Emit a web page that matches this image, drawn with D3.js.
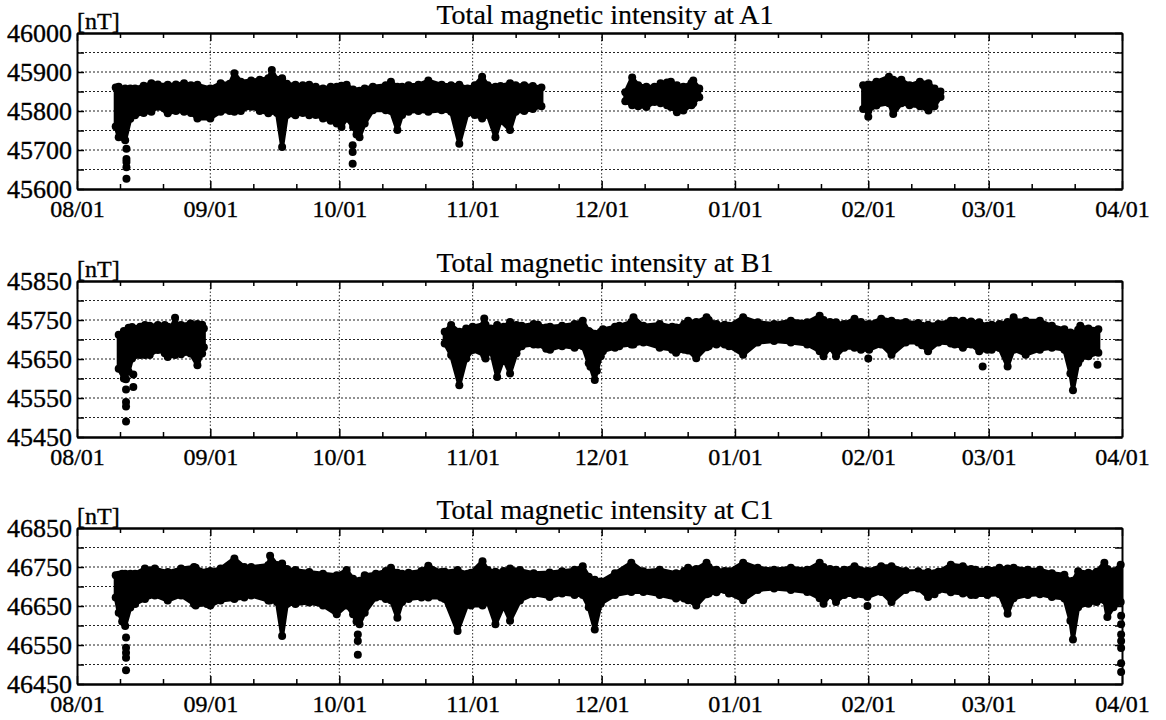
<!DOCTYPE html>
<html lang="en">
<head>
<meta charset="UTF-8">
<title>Total magnetic intensity</title>
<style>
  body { margin: 0; background: #fff; }
</style>
</head>
<body>
<script src="https://d3js.org/d3.v7.min.js"></script>
<div id="chart"></div>
<script>
// stations and their y ranges [nT]
const stations = ["A1", "B1", "C1"]
const yRanges = [[45600, 46000], [45450, 45850], [46450, 46850]]
const monthStarts = ["2001-08-01", "2001-09-01", "2001-10-01", "2001-11-01", "2001-12-01",
                     "2002-01-01", "2002-02-01", "2002-03-01", "2002-04-01"]

// envelope of the readings: [days since 08/01, lowest, highest]; null = no data
const A1_band = [
  [9.0, 45760, 45860], [9.7, 45733, 45862], [11.2, 45725, 45858], [12.4, 45780, 45858], [13.5, 45789, 45858],
  [15.5, 45795, 45865], [17.3, 45798, 45871], [18.8, 45811, 45868], [21.1, 45794, 45867], [23.0, 45800, 45868],
  [24.9, 45798, 45871], [26.5, 45795, 45866], [28.0, 45781, 45867], [31.0, 45781, 45858], [33.4, 45798, 45871],
  [35.5, 45800, 45870], [36.6, 45798, 45897], [38.1, 45800, 45875], [40.5, 45811, 45878], [42.5, 45800, 45880],
  [44.5, 45794, 45884], [45.3, 45800, 45905], [46.5, 45795, 45880], [47.7, 45708, 45884], [48.8, 45790, 45870],
  [50.8, 45789, 45867], [52.5, 45795, 45866], [54.0, 45789, 45867], [55.5, 45790, 45862], [57.2, 45781, 45858],
  [59.0, 45775, 45862], [60.4, 45768, 45862], [61.5, 45759, 45865], [62.7, 45781, 45867], [64.2, 45759, 45855],
  [65.0, 45740, 45850], [65.7, 45733, 45852], [66.9, 45768, 45858], [68.8, 45802, 45862], [71.8, 45802, 45866],
  [73.0, 45800, 45875], [74.5, 45751, 45862], [75.6, 45790, 45862], [77.1, 45798, 45866], [79.4, 45800, 45867],
  [81.7, 45798, 45878], [84.8, 45802, 45867], [87.0, 45798, 45866], [88.9, 45716, 45867], [90.8, 45794, 45858],
  [92.5, 45790, 45866], [94.2, 45781, 45888], [95.5, 45790, 45866], [97.3, 45733, 45862], [98.5, 45775, 45864],
  [100.7, 45751, 45871], [102.0, 45798, 45866], [104.0, 45800, 45866], [106.0, 45805, 45864], [108.0, 45812, 45860],
  null,
  [127.5, 45825, 45848], [129.1, 45815, 45886], [130.5, 45812, 45866], [132.4, 45810, 45862], [134.3, 45823, 45862],
  [135.7, 45820, 45871], [137.2, 45815, 45873], [138.1, 45810, 45875], [139.5, 45797, 45866], [141.0, 45801, 45862],
  [142.9, 45815, 45872], [143.3, 45820, 45878], [144.7, 45835, 45858],
  null,
  [182.8, 45805, 45866], [184.0, 45800, 45868], [185.9, 45814, 45875], [188.8, 45820, 45888], [189.8, 45792, 45880],
  [191.7, 45820, 45880], [193.6, 45815, 45866], [196.0, 45812, 45875], [198.0, 45801, 45871], [199.4, 45812, 45858],
  [200.8, 45836, 45850]
]
const A1_dots = [[11.5, 45703], [11.5, 45677], [11.5, 45669], [11.5, 45656], [11.5, 45626],
                 [64.1, 45712], [64.1, 45695], [64.1, 45665], [184.0, 45785]]

const B1_band = [
  [9.7, 45625, 45712], [10.9, 45600, 45722], [12.0, 45617, 45730], [12.8, 45651, 45732], [14.7, 45660, 45733],
  [15.8, 45660, 45737], [16.9, 45660, 45735], [18.8, 45673, 45737], [20.4, 45665, 45737], [21.1, 45655, 45733],
  [22.8, 45660, 45740], [24.2, 45662, 45737], [26.4, 45664, 45741], [28.0, 45634, 45740], [29.1, 45664, 45738],
  [29.5, 45680, 45728],
  null,
  [85.5, 45690, 45720], [87.0, 45660, 45737], [88.9, 45583, 45720], [90.5, 45651, 45728], [92.0, 45673, 45733],
  [94.7, 45660, 45740], [95.0, 45651, 45738], [96.2, 45673, 45728], [97.7, 45604, 45737], [99.2, 45651, 45733],
  [100.7, 45613, 45745], [102.2, 45665, 45737], [103.4, 45683, 45735], [106.2, 45687, 45740], [107.2, 45687, 45738],
  [109.1, 45676, 45731], [110.0, 45674, 45733], [112.8, 45683, 45735], [115.7, 45679, 45740], [117.6, 45683, 45748],
  [119.0, 45639, 45722], [119.4, 45630, 45718], [120.4, 45596, 45715], [120.9, 45620, 45713], [121.8, 45657, 45720],
  [122.3, 45670, 45726], [125.1, 45679, 45733], [126.1, 45683, 45735], [128.9, 45687, 45745], [129.4, 45687, 45757],
  [131.7, 45692, 45735], [135.5, 45679, 45740], [138.4, 45674, 45733], [139.3, 45666, 45731], [141.2, 45674, 45740],
  [142.1, 45672, 45748], [144.0, 45652, 45745], [146.4, 45680, 45757], [146.9, 45683, 45750], [148.7, 45687, 45740],
  [150.6, 45687, 45738], [151.6, 45683, 45735], [154.9, 45661, 45757], [158.3, 45692, 45744], [162.1, 45696, 45740],
  [166.0, 45692, 45748], [169.8, 45687, 45744], [172.7, 45670, 45761], [173.6, 45657, 45750], [175.1, 45679, 45745],
  [176.5, 45657, 45744], [178.4, 45679, 45740], [180.8, 45679, 45753], [182.3, 45674, 45745], [184.2, 45674, 45740],
  [187.0, 45687, 45753], [189.4, 45661, 45748], [192.7, 45692, 45745], [195.6, 45692, 45742], [196.5, 45685, 45735],
  [197.9, 45670, 45738], [200.3, 45692, 45740], [203.2, 45690, 45748], [204.1, 45687, 45748], [206.0, 45679, 45748],
  [207.9, 45687, 45746], [209.8, 45670, 45744], [211.7, 45674, 45735], [212.7, 45674, 45738], [214.5, 45678, 45740],
  [216.4, 45631, 45745], [217.8, 45674, 45750], [220.6, 45661, 45748], [223.9, 45674, 45748], [226.7, 45679, 45735],
  [229.6, 45674, 45726], [231.0, 45613, 45718], [231.6, 45570, 45715], [232.8, 45639, 45725], [233.3, 45650, 45735],
  [235.2, 45657, 45728], [237.5, 45666, 45726]
]
const B1_dots = [[22.8, 45756], [13.1, 45610], [11.4, 45598], [13.1, 45578], [11.4, 45572], [11.4, 45540],
                 [11.4, 45528], [11.4, 45490], [94.7, 45754], [184.0, 45651], [210.6, 45631], [217.8, 45757],
                 [237.3, 45635]]

const C1_band = [
  [9.0, 46672, 46729], [9.7, 46633, 46730], [10.5, 46610, 46733], [11.2, 46599, 46733], [12.4, 46646, 46733],
  [13.5, 46655, 46733], [15.8, 46668, 46746], [18.1, 46677, 46746], [21.1, 46664, 46737], [24.2, 46677, 46746],
  [27.2, 46655, 46750], [27.6, 46651, 46748], [30.2, 46655, 46737], [31.0, 46651, 46740], [33.4, 46664, 46746],
  [36.6, 46668, 46772], [38.9, 46672, 46750], [40.5, 46677, 46750], [44.5, 46664, 46755], [44.9, 46664, 46779],
  [46.5, 46660, 46755], [47.7, 46573, 46759], [48.8, 46655, 46745], [50.8, 46655, 46742], [54.0, 46659, 46737],
  [57.2, 46651, 46733], [60.4, 46629, 46729], [62.7, 46651, 46742], [64.2, 46629, 46720], [65.0, 46610, 46707],
  [65.7, 46603, 46715], [66.9, 46633, 46729], [69.5, 46672, 46733], [71.8, 46668, 46740], [73.0, 46665, 46748],
  [74.5, 46620, 46735], [75.6, 46660, 46733], [77.1, 46668, 46735], [80.1, 46672, 46740], [81.7, 46672, 46753],
  [84.7, 46672, 46737], [85.5, 46668, 46738], [88.5, 46586, 46742], [90.8, 46655, 46733], [91.6, 46651, 46735],
  [94.3, 46651, 46765], [95.5, 46660, 46742], [97.3, 46603, 46738], [99.2, 46651, 46740], [100.7, 46612, 46746],
  [103.0, 46664, 46742], [106.2, 46680, 46734], [109.9, 46673, 46736], [112.8, 46682, 46739], [115.7, 46678, 46743],
  [117.6, 46678, 46752], [119.0, 46647, 46725], [120.4, 46590, 46717], [121.8, 46656, 46713], [125.1, 46678, 46734],
  [128.9, 46686, 46761], [131.7, 46686, 46739], [135.5, 46678, 46743], [139.3, 46669, 46734], [141.2, 46669, 46740],
  [142.1, 46665, 46748], [144.0, 46651, 46745], [146.4, 46680, 46761], [146.9, 46682, 46750], [148.7, 46685, 46743],
  [150.6, 46691, 46740], [151.6, 46682, 46739], [154.9, 46665, 46761], [158.3, 46691, 46748], [162.1, 46695, 46743],
  [166.0, 46691, 46748], [169.8, 46686, 46743], [172.7, 46670, 46761], [173.6, 46656, 46750], [175.1, 46678, 46745],
  [176.5, 46660, 46743], [178.4, 46678, 46743], [180.8, 46678, 46752], [183.8, 46673, 46740], [187.0, 46686, 46752],
  [189.4, 46660, 46752], [192.7, 46691, 46740], [195.6, 46695, 46739], [197.9, 46673, 46737], [199.4, 46680, 46734],
  [200.3, 46691, 46738], [203.2, 46685, 46756], [206.0, 46682, 46752], [207.9, 46678, 46745], [208.9, 46678, 46743],
  [211.7, 46678, 46743], [214.5, 46680, 46748], [216.4, 46630, 46746], [217.8, 46670, 46748], [221.1, 46678, 46743],
  [223.9, 46680, 46743], [226.7, 46673, 46734], [229.6, 46669, 46730], [231.0, 46612, 46713], [231.6, 46564, 46715],
  [232.8, 46647, 46739], [235.2, 46656, 46735], [237.1, 46660, 46738], [238.9, 46665, 46761], [239.6, 46622, 46745],
  [241.0, 46647, 46739], [242.7, 46660, 46756]
]
const C1_dots = [[11.4, 46569], [11.4, 46543], [11.4, 46530], [11.4, 46517], [11.4, 46485],
                 [65.3, 46577], [65.3, 46560], [65.3, 46525], [183.8, 46650],
                 [242.8, 46625], [242.8, 46603], [242.8, 46577], [242.8, 46560], [242.8, 46542],
                 [242.8, 46503], [242.8, 46481]]

const bands = [A1_band, B1_band, C1_band]
const dots = [A1_dots, B1_dots, C1_dots]

const MARGIN = { LEFT: 77, TOP: 33 }
const WIDTH = 1045
const HEIGHT = 156
const PANEL_STEP = [0, 248, 495]
const SERIF = '"Liberation Serif", "Times New Roman", serif'

const svg = d3.select("#chart").append("svg")
    .attr("width", 1166)
    .attr("height", 720)

const parse = d3.timeParse("%Y-%m-%d")
const months = monthStarts.map(parse)
const start = months[0]
const dayToDate = d => new Date(+start + d * 864e5)

const x = d3.scaleTime()
    .domain([months[0], months[months.length - 1]])
    .range([0, WIDTH])

// minor ticks on the 11th and 21st of each month
const minorTicks = []
months.slice(0, -1).forEach(m => {
    minorTicks.push(new Date(m.getFullYear(), m.getMonth(), 11))
    minorTicks.push(new Date(m.getFullYear(), m.getMonth(), 21))
})

// scanned print: slightly heavy serif text
const inkText = sel => sel.style("font-family", SERIF)
    .attr("fill", "#000").attr("stroke", "#000").attr("stroke-width", 0.35)

stations.forEach((name, i) => {
    const g = svg.append("g")
        .attr("transform", `translate(${MARGIN.LEFT}, ${MARGIN.TOP + PANEL_STEP[i]})`)

    const [y0, y1] = yRanges[i]
    const y = d3.scaleLinear().domain([y0, y1]).range([HEIGHT, 0])
    const allTicks = d3.range(y0, y1 + 1, 50)
    const labelTicks = d3.range(y0, y1 + 1, 100)

    // dotted grid
    g.append("g").selectAll("line")
        .data(allTicks.slice(1, -1))
        .join("line")
        .attr("x1", 0).attr("x2", WIDTH)
        .attr("y1", d => y(d)).attr("y2", d => y(d))
        .attr("stroke", "#222").attr("stroke-width", 1).attr("stroke-dasharray", "2,2")
    g.append("g").selectAll("line")
        .data(months.slice(1, -1))
        .join("line")
        .attr("x1", d => x(d)).attr("x2", d => x(d))
        .attr("y1", 0).attr("y2", HEIGHT)
        .attr("stroke", "#333").attr("stroke-width", 1).attr("stroke-dasharray", "1.5,2")

    // readings envelope
    const band = bands[i]
    const area = d3.area()
        .defined(d => d !== null)
        .x(d => x(dayToDate(d[0])))
        .y0(d => y(d[1]))
        .y1(d => y(d[2]))
    g.append("path")
        .datum(band)
        .attr("d", area)
        .attr("fill", "#000")
        .attr("stroke", "#000")
        .attr("stroke-width", 4)
        .attr("stroke-linejoin", "round")

    // the edge readings themselves, giving the cloud its bumpy rim
    const edges = band.filter(d => d !== null).flatMap(d => [[d[0], d[1]], [d[0], d[2]]])
    g.append("g").selectAll("circle")
        .data(edges.concat(dots[i]))
        .join("circle")
        .attr("cx", d => x(dayToDate(d[0])))
        .attr("cy", d => y(d[1]))
        .attr("r", 4)
        .attr("fill", "#000")

    // axes
    g.append("g")
        .call(d3.axisLeft(y).tickValues(allTicks).tickSizeInner(-7).tickSizeOuter(0).tickPadding(5)
            .tickFormat(d => labelTicks.includes(d) ? d : ""))
        .call(a => a.selectAll("text").attr("font-size", 26).call(inkText))
    g.append("g")
        .attr("transform", `translate(${WIDTH}, 0)`)
        .call(d3.axisRight(y).tickValues(allTicks).tickSizeInner(-7).tickSizeOuter(0).tickFormat(""))
    g.append("g")
        .attr("transform", `translate(0, ${HEIGHT})`)
        .call(d3.axisBottom(x).tickValues(months).tickSizeInner(-8).tickSizeOuter(0).tickPadding(11)
            .tickFormat(d3.timeFormat("%m/%d")))
        .call(a => a.selectAll("text").attr("font-size", 24).call(inkText))
    g.append("g")
        .attr("transform", `translate(0, ${HEIGHT})`)
        .call(d3.axisBottom(x).tickValues(minorTicks).tickSizeInner(-5).tickSizeOuter(0).tickFormat(""))
    g.append("g")
        .call(d3.axisTop(x).tickValues(months).tickSizeInner(-8).tickSizeOuter(0).tickFormat(""))
    g.append("g")
        .call(d3.axisTop(x).tickValues(minorTicks).tickSizeInner(-5).tickSizeOuter(0).tickFormat(""))

    g.selectAll(".domain").attr("stroke", "#000").attr("stroke-width", 2)
    g.selectAll(".tick line").attr("stroke", "#000").attr("stroke-width", 1.5)

    g.append("text")
        .attr("x", 0).attr("y", -4)
        .attr("font-size", 24)
        .call(inkText)
        .text("[nT]")

    g.append("text")
        .attr("x", 528).attr("y", -9)
        .attr("text-anchor", "middle")
        .attr("font-size", 28)
        .call(inkText)
        .attr("stroke-width", 0.2)
        .text(`Total magnetic intensity at ${name}`)
})
</script>
</body>
</html>
